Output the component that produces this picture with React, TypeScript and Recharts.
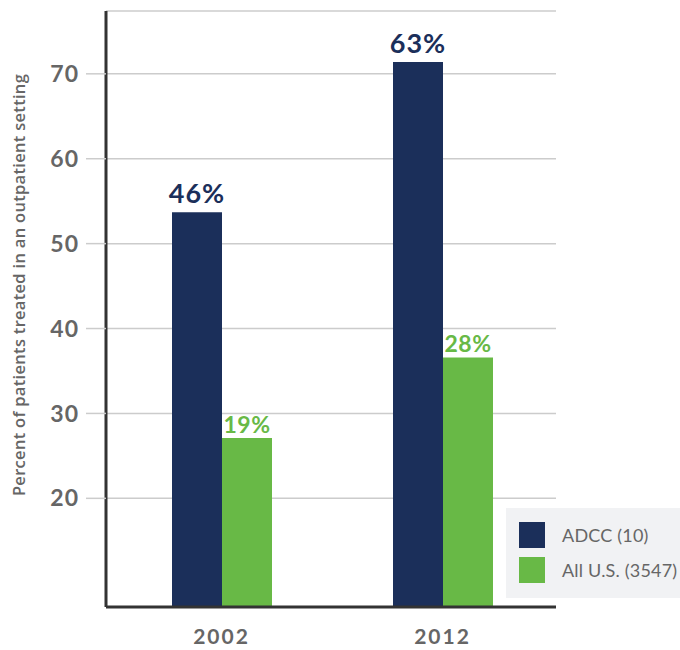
import React from 'react';
import { BarChart, Bar, XAxis, YAxis, CartesianGrid, Legend, LabelList } from 'recharts';

const years = ['2002', '2012'];
const adccValues = [53.7, 71.4];
const allUsValues = [27.1, 36.6];
const adccLabels = ['46%', '63%'];
const allUsLabels = ['19%', '28%'];
const yTicks = [20, 30, 40, 50, 60, 70];

const NAVY = '#1b2f5a';
const GREEN = '#68b946';
const GREY = '#666666';

const seriesNames = { adcc: 'ADCC (10)', allUs: 'All U.S. (3547)' };

const data = years.map((year, i) => ({
  year,
  adcc: adccValues[i],
  allUs: allUsValues[i],
  adccLabel: adccLabels[i],
  allUsLabel: allUsLabels[i],
}));

const LegendBox = () => (
  <div style={{ background: '#f1f2f4', width: 174, height: 90, boxSizing: 'border-box', padding: '14px 0 0 13px', fontFamily: 'Lato', fontSize: 18, letterSpacing: 0.2, color: GREY, whiteSpace: 'nowrap', overflow: 'hidden' }}>
    {[
      { name: seriesNames.adcc, color: NAVY },
      { name: seriesNames.allUs, color: GREEN },
    ].map((item, i) => (
      <div key={item.name} style={{ display: 'flex', alignItems: 'center', height: 26, marginBottom: i === 0 ? 9 : 0 }}>
        <span style={{ width: 26, height: 26, background: item.color, display: 'inline-block', marginRight: 17, flexShrink: 0 }} />
        <span>{item.name}</span>
      </div>
    ))}
  </div>
);

export default function App() {
  return (
    <div style={{ position: 'absolute', left: 0, top: 0, width: 680, height: 650, background: '#fff' }}>
      <BarChart width={680} height={650} data={data} margin={{ top: 11, right: 124, left: 0, bottom: 0 }} barGap={0}>
        <CartesianGrid vertical={false} stroke="#cccccc" strokeWidth={1.5} />
        <XAxis
          dataKey="year"
          height={43}
          padding={{ left: 5, right: 3 }}
          axisLine={{ stroke: '#333', strokeWidth: 3 }}
          tickLine={false}
          tickSize={0}
          tickMargin={22}
          tick={{ fill: GREY, fontSize: 21, fontWeight: 700, fontFamily: 'Lato', letterSpacing: 2 }}
        />
        <YAxis
          type="number"
          domain={[7.2, 77.4]}
          ticks={yTicks}
          width={106}
          allowDataOverflow
          axisLine={{ stroke: '#333', strokeWidth: 3 }}
          tickLine={{ stroke: '#cccccc', strokeWidth: 1.5 }}
          tickSize={20}
          tickMargin={7}
          tick={{ fill: GREY, fontSize: 23, fontWeight: 700, fontFamily: 'Lato', letterSpacing: 1 }}
          label={{
            value: 'Percent of patients treated in an outpatient setting',
            angle: -90,
            position: 'insideLeft',
            offset: 0,
            dx: 19,
            dy: -24,
            style: { textAnchor: 'middle', fill: GREY, fontSize: 16.5, fontWeight: 600, fontFamily: 'Open Sans', letterSpacing: 0.3 },
          }}
        />
        <Legend
          layout="vertical"
          align="center"
          verticalAlign="middle"
          content={() => <LegendBox />}
          wrapperStyle={{ left: 506, top: 508, width: 174, height: 90 }}
        />
        <Bar dataKey="adcc" name={seriesNames.adcc} fill={NAVY} barSize={50} isAnimationActive={false}>
          <LabelList dataKey="adccLabel" position="top" offset={9} style={{ fill: NAVY, fontSize: 27, fontWeight: 700, fontFamily: 'Lato', letterSpacing: 1 }} />
        </Bar>
        <Bar dataKey="allUs" name={seriesNames.allUs} fill={GREEN} barSize={50} isAnimationActive={false}>
          <LabelList dataKey="allUsLabel" position="top" offset={5} style={{ fill: GREEN, fontSize: 23, fontWeight: 700, fontFamily: 'Lato', letterSpacing: 0.5 }} />
        </Bar>
      </BarChart>
    </div>
  );
}
